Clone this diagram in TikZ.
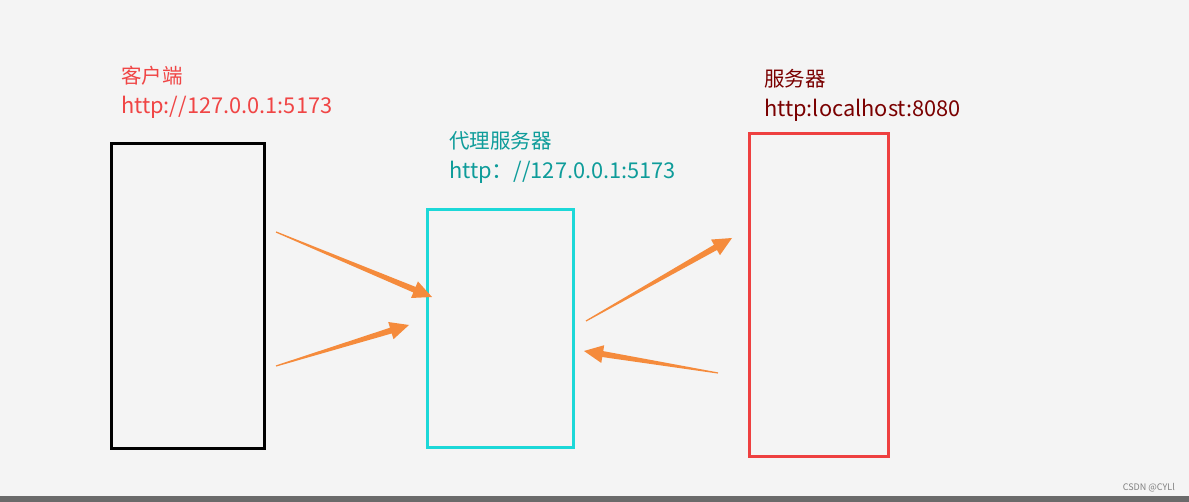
\documentclass[tikz,border=0pt]{standalone}
\usepackage{fontspec}
\newfontfamily\cjk{Noto Sans CJK SC}
\usetikzlibrary{calc}
\definecolor{bgcol}{HTML}{F4F4F4}
\definecolor{arrowcol}{HTML}{F58B3C}
\definecolor{clientcol}{HTML}{F04545}
\definecolor{proxycol}{HTML}{0E9C9A}
\definecolor{proxybox}{HTML}{1CD8D8}
\definecolor{servercol}{HTML}{7A0000}
\definecolor{serverbox}{HTML}{EE4040}
\definecolor{barcol}{HTML}{6A6A6A}
\newcommand{\urlsize}{\fontsize{21.8}{30}\selectfont}
\tikzset{
  box/.style = {draw, line width=3pt, inner sep=0pt, outer sep=0pt},
  label_c/.style = {anchor=north west, align=left, inner sep=0pt, font=\cjk\fontsize{20.5}{30}\selectfont},
  arrowfill/.style = {fill=arrowcol}
}
% tapered arrow from #1 to #2
\newcommand{\taperarrow}[2]{
  \coordinate (hb) at ($(#2)!19pt!(#1)$);
  \fill[arrowfill] ($(#1)!0.6pt!90:(#2)$) -- ($(hb)!3pt!90:(#2)$) -- ($(hb)!9pt!90:(#2)$) -- (#2)
    -- ($(hb)!9pt!-90:(#2)$) -- ($(hb)!3pt!-90:(#2)$) -- ($(#1)!0.6pt!-90:(#2)$) -- cycle;
}

\begin{document}
\begin{tikzpicture}[x=1pt, y=-1pt]
\useasboundingbox (0,0) rectangle (1189,502);
\fill[bgcol] (0,0) rectangle (1189,502);
\fill[barcol] (0,496) rectangle (1189,502);

% boxes
\node [box, draw=black, minimum width=153pt, minimum height=305pt] (client) at (187.5,296.5) {};
\node [box, draw=proxybox, minimum width=146pt, minimum height=238pt] (proxy) at (500,329) {};
\node [box, draw=serverbox, minimum width=139pt, minimum height=322pt] (server) at (818.5,295) {};

% labels
\node [label_c, text=clientcol] (client_t) at (121,66) {客户端\\{\urlsize http://127.0.0.1:5173}};
\node [label_c, text=proxycol] (proxy_t) at (449,131) {代理服务器\\{\urlsize http：//127.0.0.1:5173}};
\node [label_c, text=servercol] (server_t) at (764,69) {服务器\\{\urlsize http:localhost:8080}};
\node [anchor=east, inner sep=0pt, text=gray, font=\cjk\fontsize{9}{10}\selectfont] (mark) at (1175,488) {CSDN @CYLl};

% arrows
\coordinate (a1s) at (276,232);
\coordinate (a1e) at (432,297);
\coordinate (a2s) at (276,366);
\coordinate (a2e) at (409,325);
\coordinate (a3s) at (586,321);
\coordinate (a3e) at (732,238);
\coordinate (a4s) at (718,373);
\coordinate (a4e) at (584,351);
\taperarrow{a1s}{a1e}
\taperarrow{a2s}{a2e}
\taperarrow{a3s}{a3e}
\taperarrow{a4s}{a4e}
\end{tikzpicture}
\end{document}
